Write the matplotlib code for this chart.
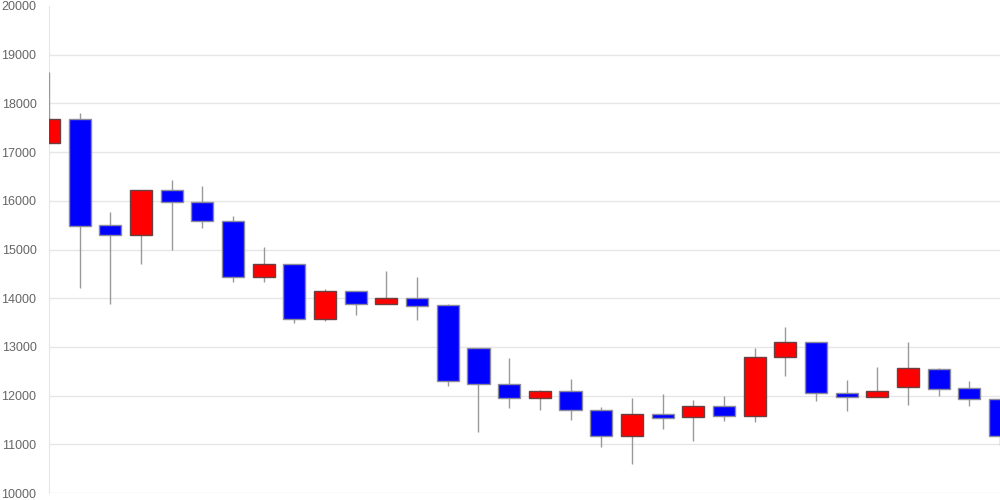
import matplotlib

matplotlib.use("Agg")
import matplotlib.pyplot as plt
from matplotlib.patches import Rectangle


# daily prices
opens = [17190, 17680, 15500, 15300, 16220, 15980, 15585, 14440,
         14700, 13575, 14150, 13880, 14000, 13860, 12980, 12240,
         11950, 12100, 11705, 11170, 11620, 11560, 11785, 11580,
         12800, 13100, 12055, 11970, 12180, 12550, 12155, 11930]
highs = [18645, 17800, 15770, 16220, 16430, 16300, 15690, 15050,
         14700, 14190, 14150, 14560, 14440, 13880, 12980, 12770,
         12115, 12340, 11765, 11950, 12035, 11910, 11990, 12980,
         13410, 13110, 12320, 12590, 13100, 12560, 12300, 11930]
lows = [17190, 14210, 13880, 14700, 15000, 15440, 14330, 14330,
        13490, 13530, 13655, 13880, 13550, 12200, 11250, 11745,
        11705, 11500, 10945, 10595, 11315, 11070, 11480, 11460,
        12400, 11890, 11685, 11970, 11810, 11990, 11785, 10985]
closes = [17680, 15480, 15300, 16220, 15980, 15590, 14440, 14700,
          13575, 14150, 13880, 14000, 13840, 12300, 12240, 11950,
          12100, 11705, 11170, 11620, 11540, 11785, 11580, 12800,
          13100, 12055, 11970, 12100, 12570, 12135, 11930, 11170]

y_ticks = list(range(10000, 20001, 1000))

UP_COLOR = "#ff0000"
DOWN_COLOR = "#0000ff"
BODY_WIDTH = 0.72


def main() -> None:
    plt.rcParams["font.family"] = ["Liberation Sans", "DejaVu Sans"]

    fig = plt.figure(figsize=(10, 5), dpi=100)
    ax = fig.add_axes([0.049, 0.014, 0.951, 0.974])

    for i, (o, h, l, c) in enumerate(zip(opens, highs, lows, closes)):
        rising = c >= o
        ax.vlines(i, l, h, color="#999999", linewidth=1, zorder=2)
        body = Rectangle(
            (i - BODY_WIDTH / 2, min(o, c)),
            BODY_WIDTH,
            abs(c - o),
            facecolor=UP_COLOR if rising else DOWN_COLOR,
            edgecolor="#6b4040" if rising else "#8a8a9a",
            linewidth=1,
            zorder=3,
        )
        ax.add_patch(body)

    ax.set_xlim(0, len(opens) - 1)
    ax.set_ylim(10000, 20000)
    ax.set_yticks(y_ticks)
    ax.set_xticks([])
    ax.tick_params(axis="y", length=0, pad=9, labelsize=9, labelcolor="#666666")

    ax.grid(True, axis="y", color="#e6e6e6", linewidth=1, zorder=0)
    ax.set_axisbelow(True)
    ax.yaxis.get_gridlines()[-1].set_visible(False)

    for side in ["top", "right", "bottom"]:
        ax.spines[side].set_visible(False)
    ax.spines["left"].set_color("#e6e6e6")
    ax.spines["left"].set_zorder(1)

    fig.savefig("out.png", dpi=100)


if __name__ == "__main__":
    main()
